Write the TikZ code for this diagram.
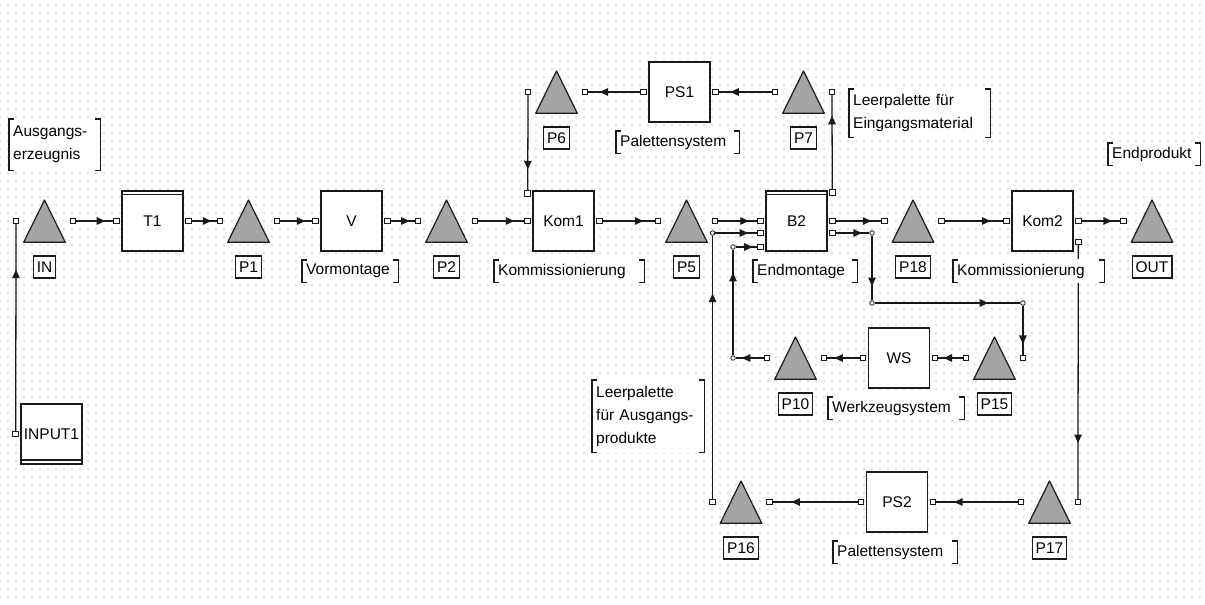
\documentclass[tikz,border=0pt]{standalone}
\usepackage{fontspec}
\setmainfont{Liberation Sans}
\usepackage{tikz}
\usetikzlibrary{arrows.meta,positioning,decorations.markings,patterns.meta,backgrounds}
\definecolor{trigray}{HTML}{A4A4A4}
\definecolor{dotgray}{HTML}{7A7A7A}
\definecolor{bk}{HTML}{1A1A1A}
\newcommand{\diagfont}{\fontsize{15.5}{23}\selectfont}
\tikzset{
  block/.style={
    rectangle, draw=bk, fill=white, line width=1.3pt,
    minimum width=61pt, minimum height=60pt,
    inner sep=0pt, font=\diagfont
  },
  blockdt/.style={block,
    path picture={\draw[bk, line width=1.1pt]
      ([yshift=-3.5pt]path picture bounding box.north west) --
      ([yshift=-3.5pt]path picture bounding box.north east);}
  },
  sourcebox/.style={block,
    path picture={\draw[bk, line width=2.6pt]
      (path picture bounding box.north west) -- (path picture bounding box.north east);
      \draw[bk, line width=1.1pt]
      ([yshift=4pt]path picture bounding box.south west) --
      ([yshift=4pt]path picture bounding box.south east);}
  },
  palette/.style={
    rectangle, minimum width=43pt, minimum height=44pt, inner sep=0pt,
    path picture={\filldraw[fill=trigray, draw=bk, line width=1.2pt, line join=round]
      ([shift={(0.7pt,0.7pt)}]path picture bounding box.south west) --
      ([shift={(-0.7pt,0.7pt)}]path picture bounding box.south east) --
      ([yshift=-1pt]path picture bounding box.north) -- cycle;}
  },
  tag/.style={
    rectangle, draw=bk, fill=white, line width=1.3pt,
    inner xsep=3.5pt, inner ysep=0pt, minimum height=22pt, font=\diagfont
  },
  port/.style={
    rectangle, draw=bk, fill=white, line width=0.9pt,
    minimum size=5.5pt, inner sep=0pt
  },
  junc/.style={
    circle, draw=bk, fill=white, line width=0.8pt,
    minimum size=4.5pt, inner sep=0pt
  },
  note/.style={
    anchor=north west, fill=white, inner xsep=5pt, inner ysep=2pt,
    text width=#1, align=left, minimum height=24pt, font=\diagfont,
    path picture={
      \draw[bk, line width=1.6pt]
        ([shift={(6pt,-0.8pt)}]path picture bounding box.north west) -|
        ([shift={(0.8pt,0.8pt)}]path picture bounding box.south west) -- ++(5.2pt,0pt);
      \draw[bk, line width=1.6pt]
        ([shift={(-6pt,-0.8pt)}]path picture bounding box.north east) -|
        ([shift={(-0.8pt,0.8pt)}]path picture bounding box.south east) -- ++(-5.2pt,0pt);}
  },
  flow/.style={
    draw=bk, line width=1.3pt, postaction={decorate},
    decoration={markings, mark=at position 0.78 with {\arrow{Triangle[length=8.5pt,width=7.5pt]}}}
  },
}

\begin{document}
\begin{tikzpicture}[x=1pt, y=-1pt]
\useasboundingbox (0,0) rectangle (1205,605);

% Quelle
\node[sourcebox] (INPUT1) at (51.5,434) {INPUT1};
\node[port, left=1.5pt of INPUT1] (INPUT1-p) {};
\node[palette] (IN) at (44.5,221) {};
\node[tag, below=12pt of IN] (IN-tag) {IN};
\node[port, left=3.5pt of IN] (IN-l) {};
\node[port, right=3.5pt of IN] (IN-r) {};

% Hauptstrang
\node[blockdt] (T1) at (152.5,221) {T1};
\node[port, left=1.5pt of T1] (T1-in) {};
\node[port, right=1.5pt of T1] (T1-out) {};
\node[palette] (P1) at (248.5,221) {};
\node[tag, below=12pt of P1] (P1-tag) {P1};
\node[port, left=3.5pt of P1] (P1-l) {};
\node[port, right=3.5pt of P1] (P1-r) {};
\node[block] (V) at (351.5,221) {V};
\node[port, left=1.5pt of V] (V-in) {};
\node[port, right=1.5pt of V] (V-out) {};
\node[palette] (P2) at (446.5,221) {};
\node[tag, below=12pt of P2] (P2-tag) {P2};
\node[port, left=3.5pt of P2] (P2-l) {};
\node[port, right=3.5pt of P2] (P2-r) {};
\node[block] (Kom1) at (563.5,221) {Kom1};
\node[port, left=1.5pt of Kom1] (Kom1-in) {};
\node[port, right=1.5pt of Kom1] (Kom1-out) {};
\node[port, left=1.5pt of Kom1.north west, yshift=-3pt] (Kom1-top) {};
\node[palette] (P5) at (686.5,221) {};
\node[tag, below=12pt of P5] (P5-tag) {P5};
\node[port, left=3.5pt of P5] (P5-l) {};
\node[port, right=3.5pt of P5] (P5-r) {};
\node[blockdt] (B2) at (796.5,221) {B2};
\node[port, left=1.5pt of B2] (B2-in1) {};
\node[port, left=1.5pt of B2.west, yshift=-12pt] (B2-in2) {};
\node[port, left=1.5pt of B2.west, yshift=-26pt] (B2-in3) {};
\node[port, right=1.5pt of B2] (B2-out1) {};
\node[port, right=1.5pt of B2.east, yshift=-12pt] (B2-out2) {};
\node[port, right=1.5pt of B2.north east, yshift=-2pt] (B2-top) {};
\node[palette] (P18) at (913,221) {};
\node[tag, below=12pt of P18] (P18-tag) {P18};
\node[port, left=3.5pt of P18] (P18-l) {};
\node[port, right=3.5pt of P18] (P18-r) {};
\node[block] (Kom2) at (1042.5,221) {Kom2};
\node[port, left=1.5pt of Kom2] (Kom2-in) {};
\node[port, right=1.5pt of Kom2] (Kom2-out) {};
\node[port, right=1.5pt of Kom2.east, yshift=-21pt] (Kom2-out2) {};
\node[palette] (OUT) at (1152,221) {};
\node[tag, below=12pt of OUT] (OUT-tag) {OUT};
\node[port, left=3.5pt of OUT] (OUT-l) {};

% Palettensystem oben
\node[palette] (P6) at (556.5,92) {};
\node[tag, below=12pt of P6] (P6-tag) {P6};
\node[port, left=3.5pt of P6] (P6-l) {};
\node[port, right=3.5pt of P6] (P6-r) {};
\node[block] (PS1) at (679.5,92) {PS1};
\node[port, left=1.5pt of PS1] (PS1-l) {};
\node[port, right=1.5pt of PS1] (PS1-r) {};
\node[palette] (P7) at (803.5,92) {};
\node[tag, below=12pt of P7] (P7-tag) {P7};
\node[port, left=3.5pt of P7] (P7-l) {};
\node[port, right=3.5pt of P7] (P7-r) {};

% Werkzeugsystem
\node[palette] (P10) at (795.5,358) {};
\node[tag, below=12pt of P10] (P10-tag) {P10};
\node[port, left=3.5pt of P10] (P10-l) {};
\node[port, right=3.5pt of P10] (P10-r) {};
\node[block] (WS) at (899,358) {WS};
\node[port, left=1.5pt of WS] (WS-l) {};
\node[port, right=1.5pt of WS] (WS-r) {};
\node[palette] (P15) at (994.5,358) {};
\node[tag, below=12pt of P15] (P15-tag) {P15};
\node[port, left=3.5pt of P15] (P15-l) {};
\node[port, right=3.5pt of P15] (P15-r) {};

% Palettensystem unten
\node[palette] (P16) at (741,502) {};
\node[tag, below=12pt of P16] (P16-tag) {P16};
\node[port, left=3.5pt of P16] (P16-l) {};
\node[port, right=3.5pt of P16] (P16-r) {};
\node[block] (PS2) at (897,502) {PS2};
\node[port, left=1.5pt of PS2] (PS2-l) {};
\node[port, right=1.5pt of PS2] (PS2-r) {};
\node[palette] (P17) at (1049.5,502) {};
\node[tag, below=12pt of P17] (P17-tag) {P17};
\node[port, left=3.5pt of P17] (P17-l) {};
\node[port, right=3.5pt of P17] (P17-r) {};

% Verzweigungen
\node[junc] (j16) at (P16-l |- B2-in2) {};
\node[junc] (jB) at (733,358) {};
\node[junc] (jA) at (jB |- B2-in3) {};
\node[junc] (jC) at (B2-out2 -| 872,0) {};
\node[junc] (jD) at (872,303) {};
\node[junc] (jE) at (P15-r |- jD) {};

% Beschriftungen
\node[note=83pt, minimum height=53pt] (n-aus) at (8,118) {Ausgangs-\\erzeugnis};
\node[note=88pt] (n-vor) at (301,259) {Vormontage};
\node[note=142pt] (n-kom1) at (493,259) {Kommissionierung};
\node[note=115pt] (n-ps1) at (615,130) {Palettensystem};
\node[note=133pt, minimum height=50pt] (n-leer1) at (848,88) {Leerpalette f\"ur\\Eingangsmaterial};
\node[note=84pt] (n-end) at (1107,142) {Endprodukt};
\node[note=96pt] (n-endm) at (752,259) {Endmontage};
\node[note=143pt] (n-kom2) at (952,259) {Kommissionierung};
\node[note=128pt] (n-ws) at (827,396) {Werkzeugsystem};
\node[note=104pt, minimum height=74pt] (n-leer2) at (591,379) {Leerpalette\\f\"ur Ausgangs-\\produkte};
\node[note=116pt] (n-ps2) at (832,540) {Palettensystem};

\begin{scope}[on background layer]
\fill[white] (0,0) rectangle (1205,605);
\fill[pattern={Dots[distance=8pt, radius=0.7pt]}, pattern color=dotgray] (0,0) rectangle (1205,598);
% Materialfluss
\draw[flow] (INPUT1-p) -- (IN-l);
\draw[flow] (IN-r) -- (T1-in);
\draw[flow] (T1-out) -- (P1-l);
\draw[flow] (P1-r) -- (V-in);
\draw[flow] (V-out) -- (P2-l);
\draw[flow] (P2-r) -- (Kom1-in);
\draw[flow] (Kom1-out) -- (P5-l);
\draw[flow] (P5-r) -- (B2-in1);
\draw[flow] (j16) -- (B2-in2);
\draw[flow] (jA) -- (B2-in3);
\draw[flow] (B2-out1) -- (P18-l);
\draw[flow] (B2-out2) -- (jC);
\draw[flow] (jC) -- (jD);
\draw[flow] (jD) -- (jE);
\draw[flow] (jE) -- (P15-r);
\draw[flow] (P15-l) -- (WS-r);
\draw[flow] (WS-l) -- (P10-r);
\draw[flow] (P10-l) -- (jB);
\draw[flow] (jB) -- (jA);
\draw[flow] (P18-r) -- (Kom2-in);
\draw[flow] (Kom2-out) -- (OUT-l);
\draw[flow] (Kom2-out2) -- (P17-r);
\draw[flow] (P17-l) -- (PS2-r);
\draw[flow] (PS2-l) -- (P16-r);
\draw[flow] (P16-l) -- (j16);
\draw[flow] (P6-l) -- (Kom1-top);
\draw[flow] (PS1-l) -- (P6-r);
\draw[flow] (P7-l) -- (PS1-r);
\draw[flow] (B2-top) -- (P7-r);
\end{scope}
\end{tikzpicture}
\end{document}
